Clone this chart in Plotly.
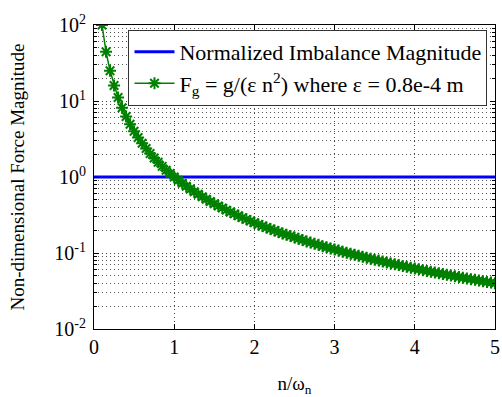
import plotly.graph_objects as go

# Frequency ratio n/omega_n
ratio = [0.10, 0.15, 0.20, 0.25, 0.30, 0.35, 0.40, 0.45, 0.50, 0.55,
         0.60, 0.65, 0.70, 0.75, 0.80, 0.85, 0.90, 0.95, 1.00, 1.05,
         1.10, 1.15, 1.20, 1.25, 1.30, 1.35, 1.40, 1.45, 1.50, 1.55,
         1.60, 1.65, 1.70, 1.75, 1.80, 1.85, 1.90, 1.95, 2.00, 2.05,
         2.10, 2.15, 2.20, 2.25, 2.30, 2.35, 2.40, 2.45, 2.50, 2.55,
         2.60, 2.65, 2.70, 2.75, 2.80, 2.85, 2.90, 2.95, 3.00, 3.05,
         3.10, 3.15, 3.20, 3.25, 3.30, 3.35, 3.40, 3.45, 3.50, 3.55,
         3.60, 3.65, 3.70, 3.75, 3.80, 3.85, 3.90, 3.95, 4.00, 4.05,
         4.10, 4.15, 4.20, 4.25, 4.30, 4.35, 4.40, 4.45, 4.50, 4.55,
         4.60, 4.65, 4.70, 4.75, 4.80, 4.85, 4.90, 4.95, 5.00]

# Non-dimensional gravity force magnitude
gravity_force = [100, 44.4, 25.0, 16.0, 11.1, 8.16, 6.25, 4.94, 4.00, 3.31,
                 2.78, 2.37, 2.04, 1.78, 1.56, 1.38, 1.23, 1.11, 1.00, 0.907,
                 0.826, 0.756, 0.694, 0.640, 0.592, 0.549, 0.510, 0.476, 0.444, 0.416,
                 0.391, 0.367, 0.346, 0.327, 0.309, 0.292, 0.277, 0.263, 0.250, 0.238,
                 0.227, 0.216, 0.207, 0.198, 0.189, 0.181, 0.174, 0.167, 0.160, 0.154,
                 0.148, 0.142, 0.137, 0.132, 0.128, 0.123, 0.119, 0.115, 0.111, 0.108,
                 0.104, 0.101, 0.0977, 0.0947, 0.0918, 0.0891, 0.0865, 0.0840, 0.0816, 0.0794,
                 0.0772, 0.0751, 0.0730, 0.0711, 0.0693, 0.0675, 0.0657, 0.0641, 0.0625, 0.0610,
                 0.0595, 0.0581, 0.0567, 0.0554, 0.0541, 0.0528, 0.0517, 0.0505, 0.0494, 0.0483,
                 0.0473, 0.0462, 0.0453, 0.0443, 0.0434, 0.0425, 0.0416, 0.0408, 0.0400]

# Normalized imbalance magnitude (constant)
imbalance_x = [0, 5]
imbalance_y = [1, 1]

# Axis ticks
x_ticks = [0, 1, 2, 3, 4, 5]
y_ticks = [0.01, 0.1, 1, 10, 100]
y_ticktext = ["10<sup>-2</sup>", "10<sup>-1</sup>", "10<sup>0</sup>",
              "10<sup>1</sup>", "10<sup>2</sup>"]

FONT = "Times New Roman, Liberation Serif, serif"
GRID_DASH = "1px,3px"

fig = go.Figure()
fig.add_trace(go.Scatter(
    x=imbalance_x, y=imbalance_y, mode="lines",
    line=dict(color="#0000ff", width=3),
    name="Normalized Imbalance Magnitude",
))
fig.add_trace(go.Scatter(
    x=ratio, y=gravity_force, mode="lines+markers",
    line=dict(color="#008000", width=1.5),
    marker=dict(symbol="asterisk-open", size=10, color="#008000",
                line=dict(color="#008000", width=2)),
    name="F<sub>g</sub> = g/(ε n<sup>2</sup>) where ε = 0.8e-4 m",
))

minor_vals = [m * 10 ** e for e in (-2, -1, 0, 1) for m in range(2, 10)]

fig.update_layout(
    width=502, height=397,
    margin=dict(l=94, r=2, t=25, b=68),
    paper_bgcolor="white", plot_bgcolor="white",
    font=dict(family=FONT, size=19, color="black"),
    showlegend=True,
    legend=dict(
        x=0.086, y=0.984, xanchor="left", yanchor="top",
        bgcolor="white", bordercolor="#333333", borderwidth=1,
        font=dict(family=FONT, size=22, color="black"),
        tracegroupgap=0, itemwidth=40,
    ),
    xaxis=dict(
        range=[0, 5], tickvals=x_ticks,
        ticks="inside", ticklen=5, tickcolor="black",
        tickfont=dict(family=FONT, size=20), ticklabeloverflow="allow",
        showline=True, linecolor="black", linewidth=1, mirror="ticks",
        showgrid=True, gridcolor="#444444", griddash=GRID_DASH, gridwidth=1,
        zeroline=False,
        title=dict(text="n/ω<sub>n</sub>", font=dict(family=FONT, size=19), standoff=22),
    ),
    yaxis=dict(
        type="log", range=[-2, 2],
        tickvals=y_ticks, ticktext=y_ticktext,
        ticks="inside", ticklen=5, tickcolor="black",
        tickfont=dict(family=FONT, size=20), ticklabelstandoff=3,
        showline=True, linecolor="black", linewidth=1, mirror="ticks",
        showgrid=True, gridcolor="#444444", griddash=GRID_DASH, gridwidth=1,
        zeroline=False,
        minor=dict(ticks="inside", ticklen=3, tickcolor="black",
                   showgrid=True, gridcolor="#555555", griddash=GRID_DASH, gridwidth=1,
                   tickvals=minor_vals),
        title=dict(text="Non-dimensional Force Magnitude", font=dict(family=FONT, size=19), standoff=24),
    ),
)

fig.write_html("out.html")
